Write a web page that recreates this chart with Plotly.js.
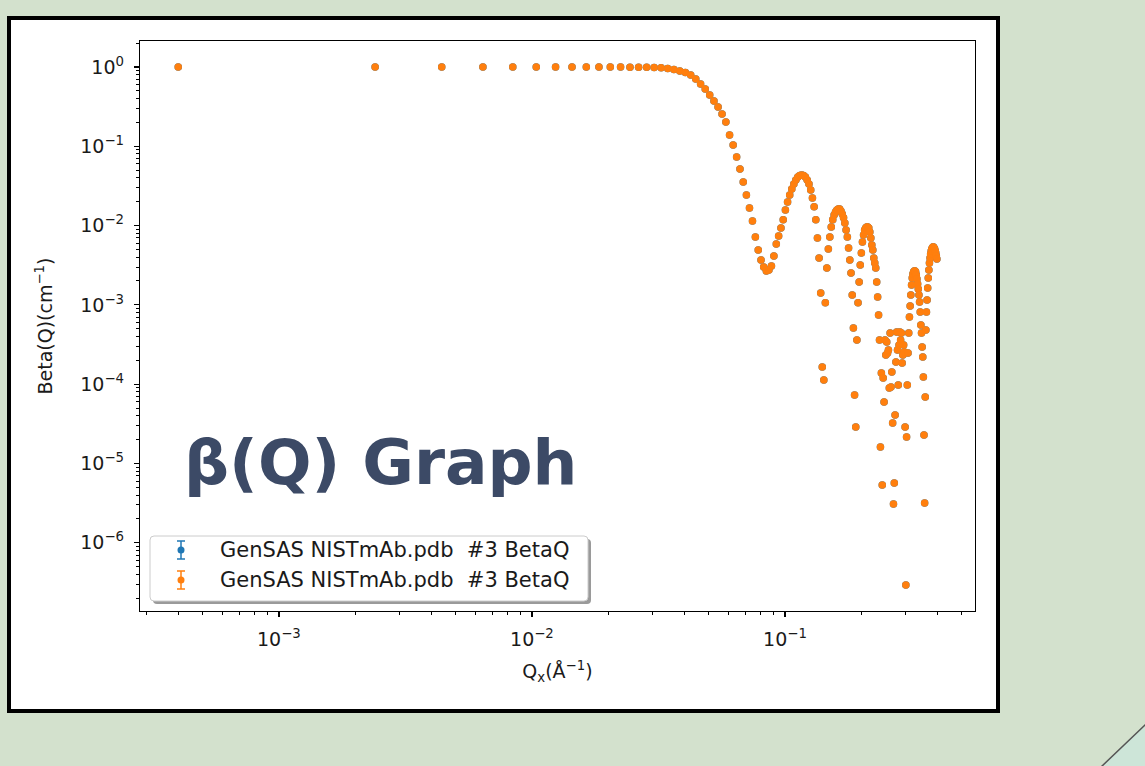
<!DOCTYPE html>
<html><head><meta charset="utf-8">
<script src="https://cdn.plot.ly/plotly-3.0.1.min.js"></script>
<style>html,body{margin:0;padding:0;background:#d3e1cd;} #chart{width:1145px;height:766px;}</style>
</head><body><div id="chart"></div>
<script>
// Q values (Å^-1)
const qValues = [
0.0004,0.0024,0.0044,0.0064,0.0084,0.0104,0.0124,0.0144,0.0164,0.0184,
0.0204,0.0224,0.0244,0.0264,0.0284,0.0304,0.0324,0.0344,0.0364,0.0384,
0.0404,0.0424,0.0444,0.0464,0.0484,0.0504,0.0524,0.0544,0.0564,0.0584,
0.0604,0.0624,0.0644,0.0664,0.0684,0.0704,0.0724,0.0744,0.0764,0.0784,
0.0804,0.0824,0.0844,0.0864,0.0884,0.0904,0.0924,0.0944,0.0964,0.0984,
0.1004,0.1024,0.1044,0.1064,0.1084,0.1104,0.1124,0.1144,0.1164,0.1184,
0.1204,0.1224,0.1244,0.1264,0.1284,0.1304,0.1324,0.1344,0.1364,0.1384,
0.1404,0.1424,0.1444,0.1464,0.1484,0.1504,0.1524,0.1544,0.1564,0.1584,
0.1604,0.1624,0.1644,0.1664,0.1684,0.1704,0.1724,0.1744,0.1764,0.1784,
0.1804,0.1824,0.1844,0.1864,0.1884,0.1904,0.1924,0.1944,0.1964,0.1984,
0.2004,0.2024,0.2044,0.2064,0.2084,0.2104,0.2124,0.2144,0.2164,0.2184,
0.2204,0.2224,0.2244,0.2264,0.2284,0.2304,0.2324,0.2344,0.2364,0.2384,
0.2404,0.2424,0.2444,0.2464,0.2484,0.2504,0.2524,0.2544,0.2564,0.2584,
0.2604,0.2624,0.2644,0.2664,0.2684,0.2704,0.2724,0.2744,0.2764,0.2784,
0.2804,0.2824,0.2844,0.2864,0.2884,0.2904,0.2924,0.2944,0.2964,0.2984,
0.3004,0.3024,0.3044,0.3064,0.3084,0.3104,0.3124,0.3144,0.3164,0.3184,
0.3204,0.3224,0.3244,0.3264,0.3284,0.3304,0.3324,0.3344,0.3364,0.3384,
0.3404,0.3424,0.3444,0.3464,0.3484,0.3504,0.3524,0.3544,0.3564,0.3584,
0.3604,0.3624,0.3644,0.3664,0.3684,0.3704,0.3724,0.3744,0.3764,0.3784,
0.3804,0.3824,0.3844,0.3864,0.3884,0.3904,0.3924,0.3944,0.3964,0.3984
];
// Beta(Q) values (cm^-1)
const betaValues = [
1.0,1.0,1.0,1.0,1.0,0.999,0.999,0.998,0.998,0.997,
0.996,0.995,0.993,0.991,0.989,0.985,0.975,0.955,0.93,0.89,
0.852,0.793,0.706,0.61,0.528,0.443,0.373,0.313,0.2555,0.2025,
0.1388,0.1038,0.0733,0.0517,0.0355,0.0243,0.0167,0.0114,0.00718,0.00493,
0.00368,0.00301,0.00268,0.00276,0.0031,0.00414,0.00586,0.0074,0.00933,0.0118,
0.01573,0.01984,0.0243,0.0289,0.0335,0.0376,0.041,0.0428,0.0435,0.0428,
0.041,0.0376,0.0335,0.0281,0.0223,0.0172,0.0118,0.00698,0.0039,0.00141,
1.65e-4,1.13e-4,0.00106,0.00292,0.00507,0.00718,0.0096,0.0118,0.0136,0.0148,
0.0157,0.0162,0.0162,0.0153,0.014,0.0125,0.0108,0.0088,0.00718,0.00522,
0.00368,0.00253,0.00133,5.11e-4,7.31e-5,2.89e-5,3.61e-4,0.00106,0.00194,0.00319,
0.00451,0.00621,0.00761,0.0088,0.00933,0.0096,0.0096,0.00933,0.0083,0.00698,
0.00569,0.00493,0.0039,0.00338,0.00292,0.00194,0.00126,7.46e-4,3.61e-4,1.61e-5,
1.38e-4,5.36e-6,1.2e-4,5.96e-5,3.61e-4,2.33e-4,3.41e-4,2.47e-4,2.7e-4,8.96e-5,
4.42e-4,9.22e-5,1.42e-4,3.24e-5,3.09e-6,5.68e-6,4.09e-5,1.91e-4,4.55e-4,2.7e-4,
9.77e-5,3.12e-4,4.55e-4,3.61e-4,4.42e-4,1.85e-4,2.33e-4,3.12e-4,2.55e-4,2.89e-5,
2.94e-7,2.16e-5,9.77e-5,2.47e-4,4.42e-4,7.04e-4,9.7e-4,0.00133,0.00178,0.00218,
0.00245,0.0026,0.00268,0.00268,0.0026,0.00238,0.00212,0.00183,0.00159,0.00133,
0.00109,8.14e-4,5.58e-4,4.42e-4,2.94e-4,2.2e-4,1.23e-4,2.29e-5,3.18e-6,6.9e-5,
4.83e-4,8.14e-4,0.00115,0.00163,0.00218,0.00276,0.00338,0.0039,0.00438,0.00478,
0.00507,0.00522,0.00537,0.00537,0.00522,0.00507,0.00478,0.00451,0.00414,0.00379
];
const seriesNames = ['GenSAS NISTmAb.pdb\u00a0 #3 BetaQ', 'GenSAS NISTmAb.pdb\u00a0 #3 BetaQ'];
const seriesColors = ['#1f77b4', '#ff7f0e'];
const xTickVals = [1e-3, 1e-2, 1e-1];
const xTickText = ['10<sup>−3</sup>', '10<sup>−2</sup>', '10<sup>−1</sup>'];
const yTickVals = [1e-6, 1e-5, 1e-4, 1e-3, 1e-2, 1e-1, 1];
const yTickText = ['10<sup>−6</sup>', '10<sup>−5</sup>', '10<sup>−4</sup>', '10<sup>−3</sup>', '10<sup>−2</sup>', '10<sup>−1</sup>', '10<sup>0</sup>'];
const overlayTitle = 'β(Q) Graph';
const xTitle = 'Q<sub>x</sub>(Å<sup>−1</sup>)';
const yTitle = 'Beta(Q)(cm<sup>−1</sup>)';

// layout geometry (pixels)
const W = 1145, H = 766, L = 140, R = 975, T = 41, B = 611;
const fx = px => (px - L) / (R - L);
const fy = py => (B - py) / (B - T);

function minorVals(lo, hi) {
  const out = [];
  for (let e = lo; e <= hi; e++) for (let m = 2; m <= 9; m++) out.push(m * Math.pow(10, e));
  return out;
}

function rrect(x0, y0, x1, y1, r) {
  return `M ${fx(x0 + r)},${fy(y0)} L ${fx(x1 - r)},${fy(y0)} Q ${fx(x1)},${fy(y0)} ${fx(x1)},${fy(y0 + r)} ` +
    `L ${fx(x1)},${fy(y1 - r)} Q ${fx(x1)},${fy(y1)} ${fx(x1 - r)},${fy(y1)} L ${fx(x0 + r)},${fy(y1)} ` +
    `Q ${fx(x0)},${fy(y1)} ${fx(x0)},${fy(y1 - r)} L ${fx(x0)},${fy(y0 + r)} Q ${fx(x0)},${fy(y0)} ${fx(x0 + r)},${fy(y0)} Z`;
}

const traces = seriesColors.map((c, k) => ({
  type: 'scatter', mode: 'markers', x: qValues, y: betaValues, name: seriesNames[k],
  marker: { color: c, size: 7.5, line: { width: 0 } }, showlegend: false, hoverinfo: 'skip'
}));

const shapes = [
  { type: 'rect', xref: 'paper', yref: 'paper', x0: fx(9), x1: fx(998), y0: fy(18), y1: fy(711),
    fillcolor: 'white', line: { color: 'black', width: 4 }, layer: 'below' },
  { type: 'path', xref: 'paper', yref: 'paper', path: `M ${fx(1146)},${fy(724)} L ${fx(1101)},${fy(767)} L ${fx(1146)},${fy(767)} Z`,
    fillcolor: '#cde5d8', line: { color: '#555555', width: 1.5 }, layer: 'below' },
  { type: 'path', xref: 'paper', yref: 'paper', path: rrect(153, 539, 591, 604, 4), fillcolor: '#9a9a9a', line: { width: 0 }, layer: 'above' },
  { type: 'path', xref: 'paper', yref: 'paper', path: rrect(150, 536, 588, 601, 4), fillcolor: 'white', line: { color: '#cccccc', width: 1 }, layer: 'above' }
];
const rowsY = [550, 580];
seriesColors.forEach((c, k) => {
  const cy = rowsY[k], cx = 181;
  shapes.push({ type: 'line', xref: 'paper', yref: 'paper', x0: fx(cx), x1: fx(cx), y0: fy(cy - 9), y1: fy(cy + 9), line: { color: c, width: 1.5 }, layer: 'above' });
  shapes.push({ type: 'line', xref: 'paper', yref: 'paper', x0: fx(cx - 4), x1: fx(cx + 4), y0: fy(cy - 9), y1: fy(cy - 9), line: { color: c, width: 1.5 }, layer: 'above' });
  shapes.push({ type: 'line', xref: 'paper', yref: 'paper', x0: fx(cx - 4), x1: fx(cx + 4), y0: fy(cy + 9), y1: fy(cy + 9), line: { color: c, width: 1.5 }, layer: 'above' });
  shapes.push({ type: 'circle', xref: 'paper', yref: 'paper', x0: fx(cx - 3.5), x1: fx(cx + 3.5), y0: fy(cy - 3.5), y1: fy(cy + 3.5), fillcolor: c, line: { width: 0 }, layer: 'above' });
});

const annotations = seriesNames.map((n, k) => ({
  xref: 'paper', yref: 'paper', x: fx(218), y: fy(rowsY[k]), xanchor: 'left', yanchor: 'middle',
  text: n, showarrow: false, font: { family: 'DejaVu Sans', size: 21, color: '#1a1a1a' }
}));
annotations.push({
  xref: 'paper', yref: 'paper', x: fx(182), y: fy(462), xanchor: 'left', yanchor: 'middle',
  text: overlayTitle, showarrow: false, font: { family: 'DejaVu Sans', size: 63, color: '#3c4a66', weight: 700 }
});

const axisFont = { family: 'DejaVu Sans', size: 19, color: '#1a1a1a' };
const titleFont = { family: 'DejaVu Sans', size: 19, color: '#1a1a1a' };
const layout = {
  width: W, height: H,
  margin: { l: L, r: W - R, t: T, b: H - B, pad: 0 },
  paper_bgcolor: '#d3e1cd', plot_bgcolor: 'white',
  font: { family: 'DejaVu Sans', color: '#1a1a1a' },
  xaxis: {
    type: 'log', range: [-3.549, -0.249], showgrid: false, zeroline: false,
    showline: true, mirror: true, linecolor: 'black', linewidth: 1.2,
    ticks: 'outside', ticklen: 5, tickwidth: 1.2, tickcolor: 'black',
    tickmode: 'array', tickvals: xTickVals, ticktext: xTickText, tickfont: axisFont, ticklabelstandoff: 6,
    minor: { ticks: 'outside', ticklen: 3, tickwidth: 1, tickcolor: 'black', tickmode: 'array', tickvals: minorVals(-4, -1), showgrid: false },
    title: { text: xTitle, font: titleFont, standoff: 15 }
  },
  yaxis: {
    type: 'log', range: [-6.86, 0.327], showgrid: false, zeroline: false,
    showline: true, mirror: true, linecolor: 'black', linewidth: 1.2,
    ticks: 'outside', ticklen: 5, tickwidth: 1.2, tickcolor: 'black',
    tickmode: 'array', tickvals: yTickVals, ticktext: yTickText, tickfont: axisFont, ticklabelstandoff: 6,
    minor: { ticks: 'outside', ticklen: 3, tickwidth: 1, tickcolor: 'black', tickmode: 'array', tickvals: minorVals(-7, 0), showgrid: false },
    title: { text: yTitle, font: titleFont, standoff: 22 }
  },
  shapes: shapes, annotations: annotations, showlegend: false
};
Plotly.newPlot('chart', traces, layout, { staticPlot: true, displayModeBar: false });
</script></body></html>
